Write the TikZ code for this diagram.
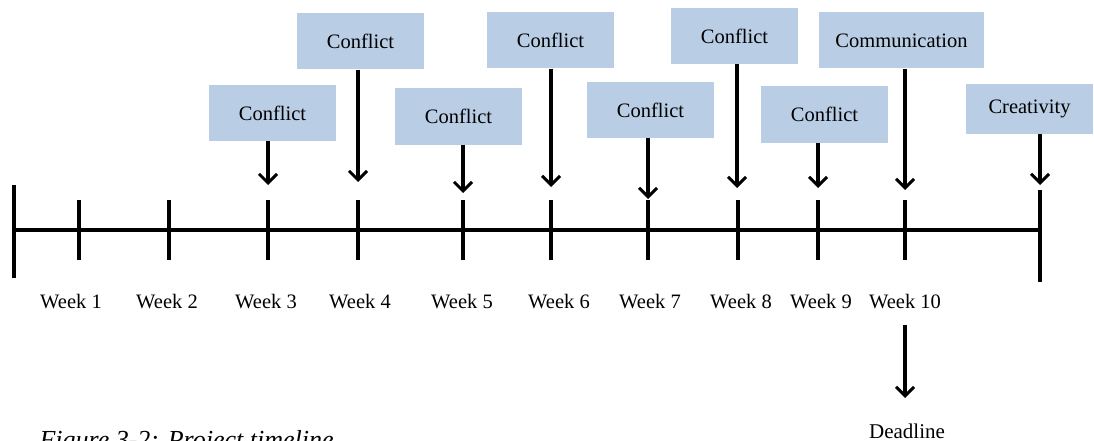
\documentclass[tikz,border=0pt]{standalone}
\usepackage{fontspec}
\setmainfont{Liberation Serif}
\usetikzlibrary{arrows.meta}
\definecolor{boxblue}{HTML}{B9CDE5}

\begin{document}
\begin{tikzpicture}[x=1pt,y=-1pt,
    every node/.style={font=\fontsize{20.5}{24}\selectfont},
    event/.style={fill=boxblue,minimum width=127pt,minimum height=56pt,inner sep=0pt},
    week/.style={anchor=base},
    tick/.style={line width=3.5pt},
    down/.style={line width=3.5pt,-{Straight Barb[length=9pt,width=18pt,line width=3pt]}}]
            \useasboundingbox (0,0) rectangle (1094,441);
            % timeline
            \draw[tick] (14,230) -- (1040,230);
            \draw[tick] (14,185) -- (14,278);
            \draw[tick] (1040,190) -- (1040,282);
            \foreach \x in {79,169,268,358,463,551,648,738,818,905}
                \draw[tick] (\x,200) -- (\x,260);
            % weeks
            \node[week] (w1) at (71,308) {Week 1};
            \node[week] (w2) at (167,308) {Week 2};
            \node[week] (w3) at (266,308) {Week 3};
            \node[week] (w4) at (360,308) {Week 4};
            \node[week] (w5) at (462,308) {Week 5};
            \node[week] (w6) at (559,308) {Week 6};
            \node[week] (w7) at (650,308) {Week 7};
            \node[week] (w8) at (741,308) {Week 8};
            \node[week] (w9) at (821,308) {Week 9};
            \node[week] (w10) at (905,308) {Week 10};
            % events
            \node[event] (c3) at (272.5,113) {Conflict};
            \node[event] (c4) at (360.5,41.5) {Conflict};
            \node[event] (c5) at (458.5,116.5) {Conflict};
            \node[event] (c6) at (550.5,40.5) {Conflict};
            \node[event] (c7) at (650.5,110) {Conflict};
            \node[event] (c8) at (734.5,36) {Conflict};
            \node[event] (c9) at (824.5,114.5) {Conflict};
            \node[event,minimum width=165pt] (comm) at (901.5,40.5) {Communication};
            \node[event,minimum height=50pt] (crea) at (1029.5,109) {Creativity};
            \coordinate (t3) at (268,185);
            \coordinate (t4) at (358,182);
            \coordinate (t5) at (463,193);
            \coordinate (t6) at (551,187);
            \coordinate (t7) at (648,199);
            \coordinate (t8) at (737,188);
            \coordinate (t9) at (818,188);
            \coordinate (t10) at (905,190);
            \coordinate (tend) at (1040,185);
            \draw[down] (c3.south -| t3) -- (t3);
            \draw[down] (c4.south -| t4) -- (t4);
            \draw[down] (c5.south -| t5) -- (t5);
            \draw[down] (c6.south -| t6) -- (t6);
            \draw[down] (c7.south -| t7) -- (t7);
            \draw[down] (c8.south -| t8) -- (t8);
            \draw[down] (c9.south -| t9) -- (t9);
            \draw[down] (comm.south -| t10) -- (t10);
            \draw[down] (crea.south -| tend) -- (tend);
            % deadline
            \node[anchor=base,font=\fontsize{21}{24}\selectfont] (dl) at (907,438) {Deadline};
            \coordinate (d0) at (905,325);
            \coordinate (d1) at (905,398);
            \draw[down] (d0) -- (d1);
            % caption
            \node[anchor=base west,font=\fontsize{26}{30}\itshape] (cap) at (36,448) {Figure 3-2: Project timeline};
            \end{tikzpicture}
\end{document}
